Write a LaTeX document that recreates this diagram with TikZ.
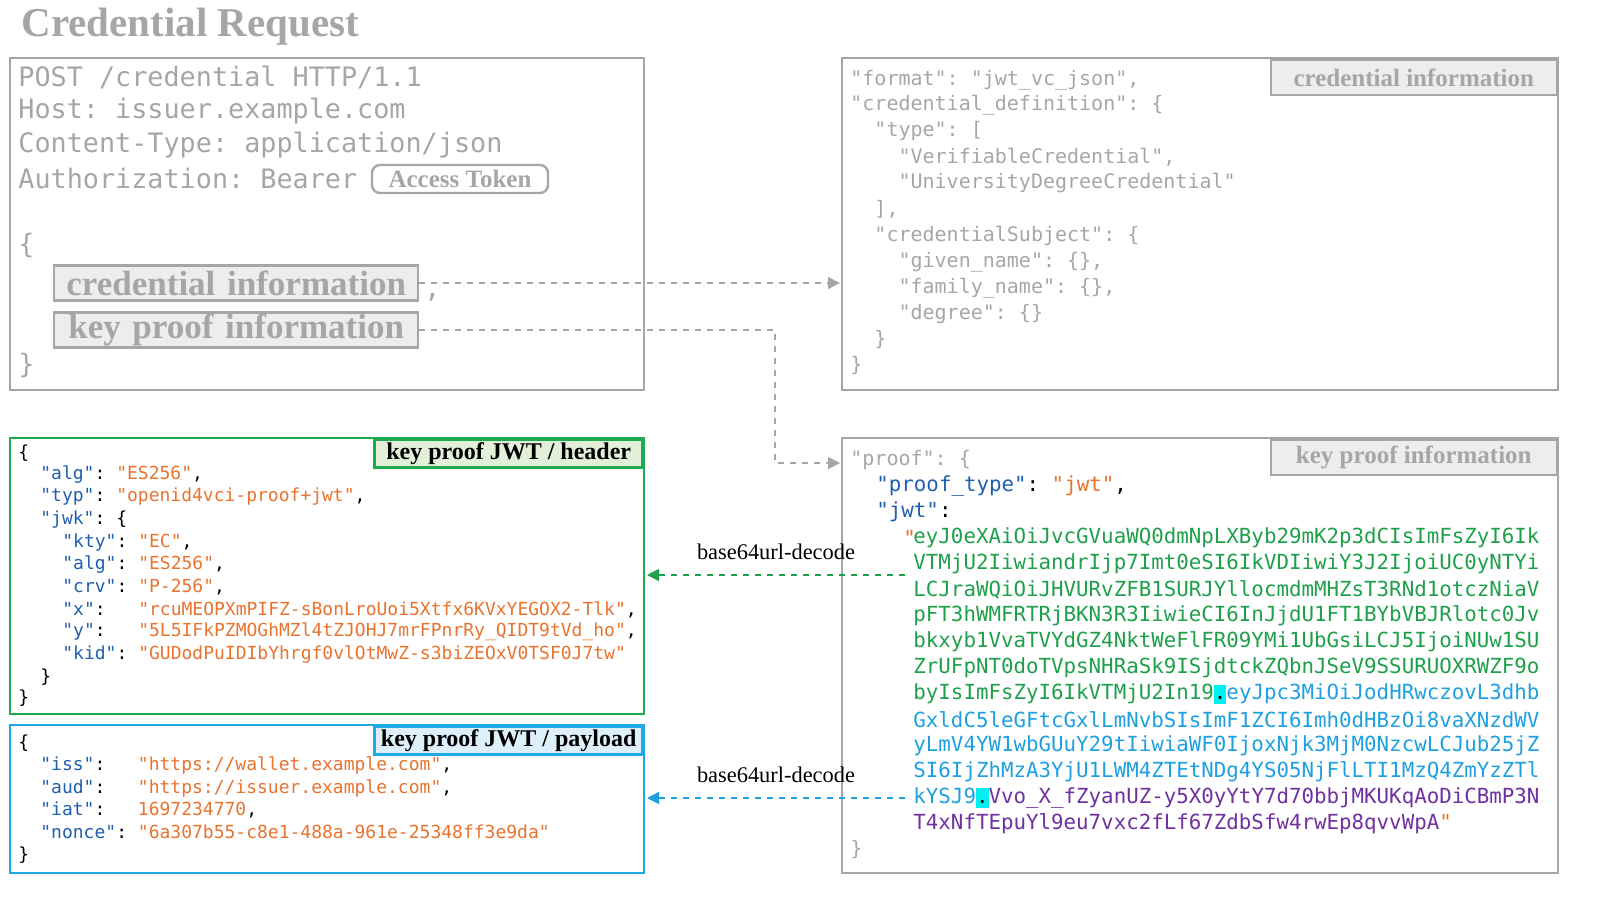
\documentclass[tikz,border=0pt]{standalone}
\usepackage{fontspec}
\setmainfont{Liberation Serif}
\setmonofont{DejaVu Sans Mono}
\usetikzlibrary{arrows.meta}
\definecolor{gr}{HTML}{A6A6A6}
\definecolor{lgr}{HTML}{EDEDED}
\definecolor{keyc}{HTML}{1F5FAF}
\definecolor{valc}{HTML}{E8732F}
\definecolor{jg}{HTML}{1EA04A}
\definecolor{jb}{HTML}{1EA0E0}
\definecolor{jp}{HTML}{7030A0}
\definecolor{hl}{HTML}{00F0F0}
\definecolor{boxg}{HTML}{1EAA50}
\definecolor{boxb}{HTML}{1EA8E6}
\definecolor{fillg}{HTML}{E2F0D9}
\definecolor{fillb}{HTML}{DDF0FA}
\newcommand\Kq[1]{\textcolor{keyc}{"#1"}}
\newcommand\Vq[1]{\textcolor{valc}{"#1"}}
\newcommand\Hd{{\setlength\fboxsep{0pt}\colorbox{hl}{\vphantom{Ay}.}}}
\begin{document}
\begin{tikzpicture}[x=0.5pt,y=-0.5pt,
  every node/.style={inner sep=0pt},
  ln/.style={anchor=west},
  big/.style={ln,font=\fontsize{13.4}{15}\ttfamily,text=gr},
  mid/.style={ln,font=\fontsize{10}{12}\ttfamily,text=gr},
  jwt/.style={ln,font=\fontsize{10.4}{12}\ttfamily},
  sm/.style={ln,font=\fontsize{9}{11}\ttfamily},
  frame/.style={draw=gr,line width=1.2pt},
  lab/.style={draw=gr,fill=lgr,line width=1.2pt,font=\bfseries\fontsize{12.5}{14}\selectfont,text=gr},
  biglab/.style={draw=gr,fill=lgr,line width=1.2pt,font=\bfseries\fontsize{17.5}{19}\selectfont,text=gr,anchor=west,minimum height=17.5pt,text width=182pt,align=center},
  dcon/.style={dashed,line width=0.8pt,-{Triangle[length=6pt,width=6pt]}},
]
\path[use as bounding box] (0,0) rectangle (1600,900);
\node[ln,font=\bfseries\fontsize{20.5}{23}\selectfont,text=gr] (title) at (21,27) {Credential Request};

% top-left request box
\draw[frame] (10,58) rectangle (644,390);
\node[big] (r1) at (18,77) {POST /credential HTTP/1.1};
\node[big] (r2) at (18,111) {Host: issuer.example.com};
\node[big] (r3) at (18,145) {Content-Type: application/json};
\node[big] (r4) at (18,179) {Authorization: Bearer};
\node[draw=gr,line width=1.2pt,rounded corners=4pt,font=\bfseries\fontsize{12.5}{14}\selectfont,text=gr,minimum width=88pt,minimum height=14pt] (at) at (460,179) {Access Token};
\node[big] (ob) at (18,245) {\{};
\node[biglab] (ci) at (53,283) {credential information};
\node[big] (cm) at (424,297) {,};
\node[biglab] (kp) at (53,330) {key proof information};
\node[big] (cb) at (18,365) {\}};

% top-right credential information
\draw[frame] (842,58) rectangle (1558,390);
\node[lab,anchor=north east,minimum width=143pt,minimum height=17.5pt] (cil) at (1558,59) {credential information};
\node[mid] (c1) at (850,80) {"format": "jwt\_vc\_json",};
\node[mid] (c2) at (850,105) {"credential\_definition": \{};
\node[mid] (c3) at (850,131) {\ \ "type": [};
\node[mid] (c4) at (850,157) {\ \ \ \ "VerifiableCredential",};
\node[mid] (c5) at (850,183) {\ \ \ \ "UniversityDegreeCredential"};
\node[mid] (c6) at (850,209) {\ \ ],};
\node[mid] (c7) at (850,236) {\ \ "credentialSubject": \{};
\node[mid] (c8) at (850,262) {\ \ \ \ "given\_name": \{\},};
\node[mid] (c9) at (850,288) {\ \ \ \ "family\_name": \{\},};
\node[mid] (c10) at (850,314) {\ \ \ \ "degree": \{\}};
\node[mid] (c11) at (850,340) {\ \ \}};
\node[mid] (c12) at (850,366) {\}};

% bottom-right key proof information
\draw[frame] (842,438) rectangle (1558,873);
\node[lab,anchor=north east,minimum width=143pt,minimum height=17.5pt] (kpl) at (1558,439) {key proof information};
\node[mid] (p1) at (850,460) {"proof": \{};
\node[jwt] (p2) at (876,486) {\Kq{proof\_type}: \Vq{jwt},};
\node[jwt] (p3) at (876,512) {\Kq{jwt}:};
\node[jwt,text=valc] (pq) at (903,538) {"};
\node[jwt,text=jg] (j1) at (913,538) {eyJ0eXAiOiJvcGVuaWQ0dmNpLXByb29mK2p3dCIsImFsZyI6Ik};
\node[jwt,text=jg] (j2) at (913,564) {VTMjU2IiwiandrIjp7Imt0eSI6IkVDIiwiY3J2IjoiUC0yNTYi};
\node[jwt,text=jg] (j3) at (913,590) {LCJraWQiOiJHVURvZFB1SURJYllocmdmMHZsT3RNd1otczNiaV};
\node[jwt,text=jg] (j4) at (913,616) {pFT3hWMFRTRjBKN3R3IiwieCI6InJjdU1FT1BYbVBJRlotc0Jv};
\node[jwt,text=jg] (j5) at (913,642) {bkxyb1VvaTVYdGZ4NktWeFlFR09YMi1UbGsiLCJ5IjoiNUw1SU};
\node[jwt,text=jg] (j6) at (913,668) {ZrUFpNT0doTVpsNHRaSk9ISjdtckZQbnJSeV9SSURUOXRWZF9o};
\node[jwt] (j7) at (913,694) {\textcolor{jg}{byIsImFsZyI6IkVTMjU2In19}\Hd\textcolor{jb}{eyJpc3MiOiJodHRwczovL3dhb}};
\node[jwt,text=jb] (j8) at (913,720) {GxldC5leGFtcGxlLmNvbSIsImF1ZCI6Imh0dHBzOi8vaXNzdWV};
\node[jwt,text=jb] (j9) at (913,746) {yLmV4YW1wbGUuY29tIiwiaWF0IjoxNjk3MjM0NzcwLCJub25jZ};
\node[jwt,text=jb] (j10) at (913,772) {SI6IjZhMzA3YjU1LWM4ZTEtNDg4YS05NjFlLTI1MzQ4ZmYzZTl};
\node[jwt] (j11) at (913,798) {\textcolor{jb}{kYSJ9}\Hd\textcolor{jp}{Vvo\_X\_fZyanUZ-y5X0yYtY7d70bbjMKUKqAoDiCBmP3N}};
\node[jwt] (j12) at (913,824) {\textcolor{jp}{T4xNfTEpuYl9eu7vxc2fLf67ZdbSfw4rwEp8qvvWpA}\textcolor{valc}{"}};
\node[mid] (p4) at (850,850) {\}};

% header box
\draw[draw=boxg,line width=1.3pt] (10,438) rectangle (644,714);
\node[draw=boxg,fill=fillg,line width=1.3pt,anchor=north east,minimum width=134pt,minimum height=14pt,font=\bfseries\fontsize{12}{14}\selectfont] (hl) at (644,438) {key proof JWT / header};
\node[sm] (h1) at (18,453) {\{};
\node[sm] (h2) at (40,475) {\Kq{alg}: \Vq{ES256},};
\node[sm] (h3) at (40,497) {\Kq{typ}: \Vq{openid4vci-proof+jwt},};
\node[sm] (h4) at (40,520) {\Kq{jwk}: \{};
\node[sm] (h5) at (62,543) {\Kq{kty}: \Vq{EC},};
\node[sm] (h6) at (62,565) {\Kq{alg}: \Vq{ES256},};
\node[sm] (h7) at (62,587) {\Kq{crv}: \Vq{P-256},};
\node[sm] (h8) at (62,610) {\Kq{x}:\ \ \ \Vq{rcuMEOPXmPIFZ-sBonLroUoi5Xtfx6KVxYEGOX2-Tlk},};
\node[sm] (h9) at (62,632) {\Kq{y}:\ \ \ \Vq{5L5IFkPZMOGhMZl4tZJOHJ7mrFPnrRy\_QIDT9tVd\_ho},};
\node[sm] (h10) at (62,655) {\Kq{kid}: \Vq{GUDodPuIDIbYhrgf0vlOtMwZ-s3biZEOxV0TSF0J7tw}};
\node[sm] (h11) at (40,677) {\}};
\node[sm] (h12) at (18,698) {\}};

% payload box
\draw[draw=boxb,line width=1.3pt] (10,725) rectangle (644,873);
\node[draw=boxb,fill=fillb,line width=1.3pt,anchor=north east,minimum width=134pt,minimum height=14pt,font=\bfseries\fontsize{12}{14}\selectfont] (pl) at (644,725) {key proof JWT / payload};
\node[sm] (y1) at (18,743) {\{};
\node[sm] (y2) at (40,765) {\Kq{iss}:\ \ \ \Vq{https://wallet.example.com},};
\node[sm] (y3) at (40,788) {\Kq{aud}:\ \ \ \Vq{https://issuer.example.com},};
\node[sm] (y4) at (40,810) {\Kq{iat}:\ \ \ \textcolor{valc}{1697234770},};
\node[sm] (y5) at (40,832) {\Kq{nonce}: \Vq{6a307b55-c8e1-488a-961e-25348ff3e9da}};
\node[sm] (y6) at (18,855) {\}};

% connectors
\coordinate (k1) at (775,330);
\coordinate (k2) at (775,463);
\coordinate (tgt1) at (840,283);
\coordinate (tgt2) at (840,463);
\draw[dcon,draw=gr] (ci.east) -- (tgt1);
\draw[dcon,draw=gr] (kp.east) -- (k1) -- (k2) -- (tgt2);
\coordinate (g0) at (905,575);
\coordinate (g1) at (647,575);
\coordinate (b0) at (905,798);
\coordinate (b1) at (647,798);
\draw[dcon,draw=jg] (g0) -- node[above=7pt,font=\fontsize{11.2}{13}\selectfont,text=black] (dl1) {base64url-decode} (g1);
\draw[dcon,draw=jb] (b0) -- node[above=7pt,font=\fontsize{11.2}{13}\selectfont,text=black] (dl2) {base64url-decode} (b1);
\end{tikzpicture}
\end{document}
